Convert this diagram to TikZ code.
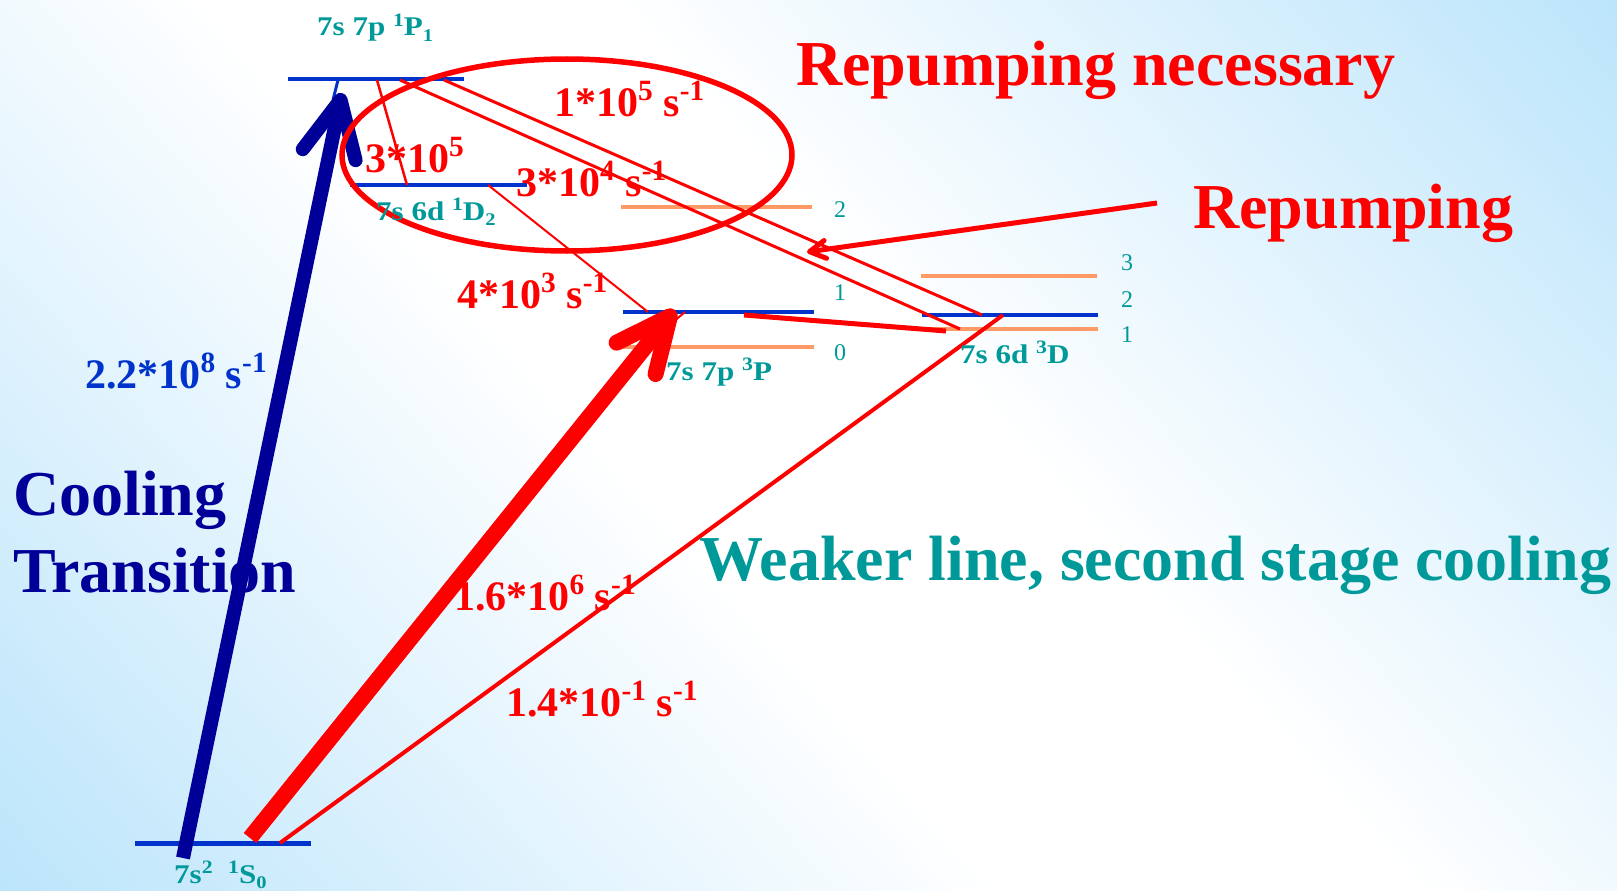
\documentclass[tikz,border=0pt]{standalone}
\usepackage{fontspec}
\setmainfont{Liberation Serif}
\newfontfamily\lvlfont[FakeStretch=1.15]{Liberation Serif}
\usepackage{graphicx}
\usetikzlibrary{arrows.meta}
\definecolor{bgblue}{RGB}{186,228,251}
\definecolor{lvlblue}{RGB}{0,51,204}
\definecolor{lvlorange}{RGB}{255,153,102}
\definecolor{tealtxt}{RGB}{0,153,153}
\definecolor{navyc}{RGB}{0,0,153}
\definecolor{redc}{RGB}{255,0,0}
\pgfdeclareverticalshading{bgshade}{100bp}{color(0bp)=(bgblue); color(14bp)=(bgblue); color(44bp)=(white); color(56bp)=(white); color(86bp)=(bgblue); color(100bp)=(bgblue)}
\newcommand{\myup}[1]{\raisebox{0.36em}{\scalebox{0.7}{#1}}}
\newcommand{\mydn}[1]{\raisebox{-0.2em}{\scalebox{0.66}{#1}}}
\begin{document}
\begin{tikzpicture}[x=1pt,y=-1pt,
  levelb/.style={draw=lvlblue, line width=4pt},
  levelo/.style={draw=lvlorange, line width=4pt},
  decay/.style={draw=redc, line width=3pt},
  lvltxt/.style={inner sep=0pt, anchor=base west, text=tealtxt, font=\lvlfont\bfseries\fontsize{27}{30}\selectfont},
  ratetxt/.style={inner sep=0pt, anchor=base west, text=redc, font=\bfseries\fontsize{42}{46}\selectfont},
  bigtxt/.style={inner sep=0pt, anchor=base west, font=\bfseries\fontsize{64}{70}\selectfont},
  jnum/.style={inner sep=0pt, anchor=center, text=tealtxt, font=\fontsize{24}{26}\selectfont}]
\useasboundingbox (0,0) rectangle (1617,891);
\fill[shading=bgshade, shading angle=-48] (0,0) rectangle (1617,891);

% energy levels
\coordinate (P1l) at (288,79);  \coordinate (P1r) at (464,79);
\coordinate (D2l) at (350,185); \coordinate (D2r) at (527,185);
\coordinate (TP2l) at (621,207); \coordinate (TP2r) at (812,207);
\coordinate (TP1l) at (623,312); \coordinate (TP1r) at (814,312);
\coordinate (TP0l) at (623,347); \coordinate (TP0r) at (814,347);
\coordinate (TD3l) at (921,276); \coordinate (TD3r) at (1097,276);
\coordinate (TD2l) at (922,315); \coordinate (TD2r) at (1098,315);
\coordinate (TD1l) at (922,329); \coordinate (TD1r) at (1098,329);
\coordinate (S0l) at (135,843); \coordinate (S0r) at (311,843);

\draw[levelb] (P1l) -- (P1r);
\draw[levelb] (D2l) -- (D2r);
\draw[levelo] (TP2l) -- (TP2r);
\draw[levelb] (TP1l) -- (TP1r);
\draw[levelo] (TP0l) -- (TP0r);
\draw[levelo] (TD3l) -- (TD3r);
\draw[levelb] (TD2l) -- (TD2r);
\draw[levelo] (TD1l) -- (TD1r);
\draw[levelb, line width=5pt] (S0l) -- (S0r);

% connector end points
\coordinate (gA) at (183,858);  \coordinate (P1a) at (342,93);
\coordinate (P1t) at (338,80);  \coordinate (P1u) at (333,100);
\coordinate (gB) at (250,838);  \coordinate (TP1a) at (675,310);
\coordinate (gC) at (280,843);  \coordinate (TD2a) at (1003,315);
\coordinate (P1b) at (377,80);  \coordinate (D2a) at (407,185);
\coordinate (P1c) at (400,80);  \coordinate (TD1a) at (960,329);
\coordinate (P1d) at (444,80);  \coordinate (TD2b) at (982,315);
\coordinate (D2b) at (488,185); \coordinate (TP1b) at (648,312);
\coordinate (TP1c) at (744,315); \coordinate (TD1b) at (946,331);
\coordinate (TP1d) at (685,312); \coordinate (TP1e) at (672,323);
\coordinate (rpS) at (1157,203); \coordinate (rpT) at (807,252);

% decays
\draw[decay, line width=4pt] (gC) -- (TD2a);
\draw[decay, line width=2.5pt] (P1b) -- (D2a);
\draw[decay] (P1c) -- (TD1a);
\draw[decay] (P1d) -- (TD2b);
\draw[decay, line width=2pt] (D2b) -- (TP1b);
\draw[decay, line width=5pt] (TP1c) -- (TD1b);
\draw[decay, line width=2pt] (TP1d) -- (TP1e);

% main arrows
\draw[lvlblue, line width=3pt] (P1t) -- (P1u);
\draw[navyc, line width=14pt, -{Straight Barb[length=56pt,width=54pt,round]}] (gA) -- (P1a);
\draw[redc, line width=16pt, -{Straight Barb[length=54pt,width=50pt,round]}] (gB) -- (TP1a);
\draw[redc, line width=5pt, -{Straight Barb[length=16pt,width=18pt,round]}] (rpS) -- (rpT);

% ellipse
\draw[redc, line width=5.5pt] (567,155) ellipse [x radius=225, y radius=96];

% level labels
\node[lvltxt] (lP1) at (317,36) {7s 7p \myup{1}P\mydn{1}};
\node[lvltxt] (lD2) at (376,220) {7s 6d \myup{1}D\mydn{2}};
\node[lvltxt] (lTP) at (666,380) {7s 7p \myup{3}P};
\node[lvltxt] (lTD) at (960,363) {7s 6d \myup{3}D};
\node[lvltxt] (lS0) at (174,883) {7s\myup{2}\ \ \myup{1}S\mydn{0}};

\node[jnum] (j2a) at (840,210) {2};
\node[jnum] (j1a) at (840,293) {1};
\node[jnum] (j0a) at (840,353) {0};
\node[jnum] (j3b) at (1127,263) {3};
\node[jnum] (j2b) at (1127,300) {2};
\node[jnum] (j1b) at (1127,335) {1};

% rates
\node[ratetxt] (r1) at (554,116) {1*10\myup{5} s\myup{-1}};
\node[ratetxt] (r2) at (365,172) {3*10\myup{5}};
\node[ratetxt] (r3) at (516,196) {3*10\myup{4} s\myup{-1}};
\node[ratetxt] (r4) at (457,308) {4*10\myup{3} s\myup{-1}};
\node[ratetxt, text=lvlblue] (r5) at (85,388) {2.2*10\myup{8} s\myup{-1}};
\node[ratetxt] (r6) at (454,610) {1.6*10\myup{6} s\myup{-1}};
\node[ratetxt] (r7) at (506,716) {1.4*10\myup{-1} s\myup{-1}};

% big texts
\node[bigtxt, text=redc] (t1) at (796,85) {Repumping necessary};
\node[bigtxt, text=redc] (t2) at (1193,228) {Repumping};
\node[bigtxt, text=navyc] (t3) at (13,515) {Cooling};
\node[bigtxt, text=navyc] (t4) at (13,592) {Transition};
\node[bigtxt, text=tealtxt] (t5) at (699,580) {Weaker line, second stage cooling};
\end{tikzpicture}
\end{document}
